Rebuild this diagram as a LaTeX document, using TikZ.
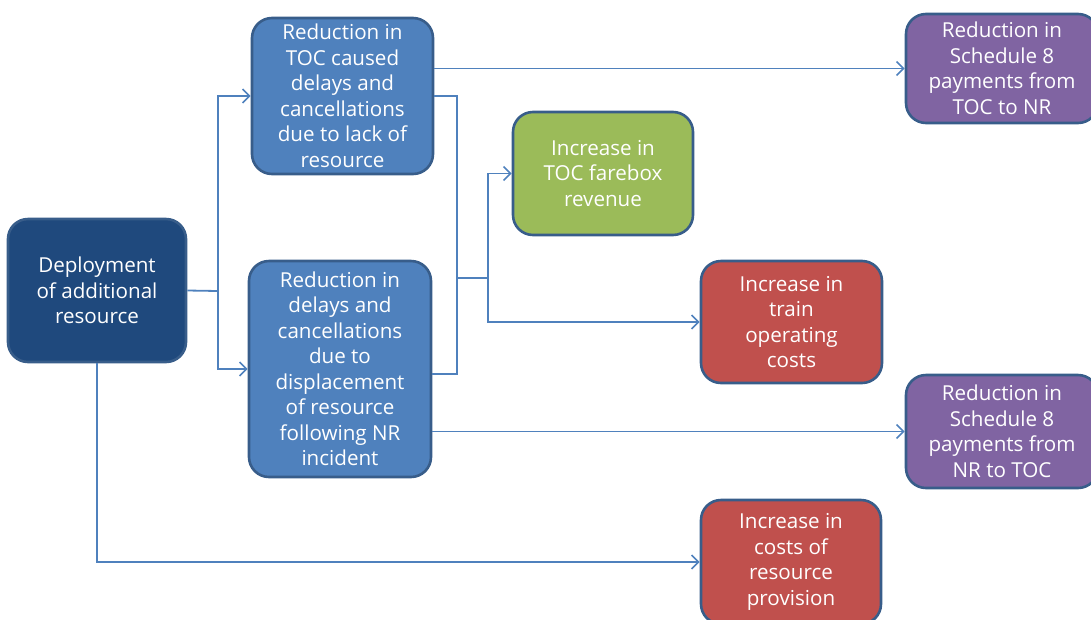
\documentclass[tikz,border=0pt]{standalone}
\usepackage{fontspec}
\setmainfont{Open Sans}
\usetikzlibrary{arrows.meta}
\definecolor{linec}{RGB}{79,129,189}
\definecolor{borderc}{RGB}{56,93,138}
\definecolor{darkb}{RGB}{31,73,125}
\definecolor{medb}{RGB}{79,129,189}
\definecolor{greenc}{RGB}{155,187,89}
\definecolor{redc}{RGB}{192,80,77}
\definecolor{purplec}{RGB}{128,100,162}
\tikzset{
  box/.style={draw=borderc, line width=2.6pt, rounded corners=20pt, text=white,
    align=center, inner sep=0pt,
    font=\fontsize{20.6}{25.5}\selectfont},
  conn/.style={draw=linec, line width=1.8pt},
  arr/.style={conn, -{Straight Barb[length=7pt,width=14pt,line width=1.6pt]}},
}
\begin{document}
\begin{tikzpicture}[x=1pt,y=-1pt]
\useasboundingbox (0,0) rectangle (1091,619);
\clip (0,0) rectangle (1091,619);
\node[box, fill=darkb, minimum width=178pt, minimum height=143pt] (dep) at (97,290.5)
  {Deployment\\of additional\\resource};
\node[box, fill=medb, minimum width=181pt, minimum height=156pt] (A) at (342.5,96)
  {Reduction in\\TOC caused\\delays and\\cancellations\\due to lack of\\resource};
\node[box, fill=medb, minimum width=182pt, minimum height=216pt] (B) at (340,369)
  {Reduction in\\delays and\\cancellations\\due to\\displacement\\of resource\\following NR\\incident};
\node[box, fill=greenc, minimum width=180pt, minimum height=123pt] (G) at (603,173.5)
  {Increase in\\TOC farebox\\revenue};
\node[box, fill=redc, minimum width=181pt, minimum height=122pt] (R1) at (791.5,322)
  {Increase in\\train\\operating\\costs};
\node[box, fill=purplec, minimum width=192pt, minimum height=109pt] (P1) at (1002,68.5)
  {Reduction in\\Schedule 8\\payments from\\TOC to NR};
\node[box, fill=purplec, minimum width=192pt, minimum height=113pt] (P2) at (1002,431.5)
  {Reduction in\\Schedule 8\\payments from\\NR to TOC};
\node[box, fill=redc, minimum width=180pt, minimum height=124pt] (R2) at (791,562)
  {Increase in\\costs of\\resource\\provision};
\coordinate (j1) at (218,291);
\coordinate (j2) at (457,278);
\coordinate (j3) at (488,278);
\draw[conn] (dep.east) -- (j1);
\draw[arr] (j1) |- (A.west);
\draw[arr] (j1) |- (B.west);
\draw[arr] (dep.south) |- (R2.west);
\draw[arr] (A.east |- P1.west) -- (P1.west);
\draw[conn] (A.east) -| (j2);
\draw[conn] ([yshift=-5pt]B.east) -| (j2);
\draw[conn] (j2) -- (j3);
\draw[arr] (j3) |- (G.west);
\draw[arr] (j3) |- (R1.west);
\draw[arr] (B.east |- P2.west) -- (P2.west);
\end{tikzpicture}
\end{document}
